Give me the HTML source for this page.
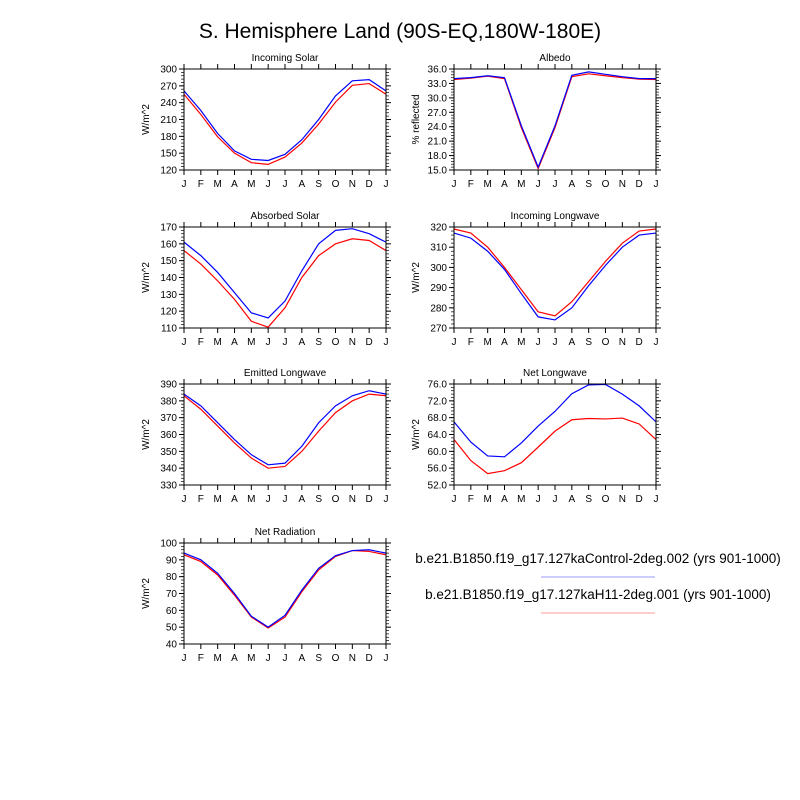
<!DOCTYPE html>
<html><head><meta charset="utf-8">
<style>
html,body{margin:0;padding:0;background:#fff;}
svg{display:block;font-family:"Liberation Sans",Arial,sans-serif;}
</style></head>
<body>
<svg id="chart" width="800" height="800" viewBox="0 0 800 800">
<text x="400" y="38" text-anchor="middle" font-size="21">S. Hemisphere Land (90S-EQ,180W-180E)</text>
<g>
<text x="598" y="563" text-anchor="middle" font-size="13.5">b.e21.B1850.f19_g17.127kaControl-2deg.002 (yrs 901-1000)</text>
<line x1="541" y1="577" x2="655" y2="577" stroke="#9999ff" stroke-width="1"/>
<text x="598" y="599" text-anchor="middle" font-size="13.5">b.e21.B1850.f19_g17.127kaH11-2deg.001 (yrs 901-1000)</text>
<line x1="541" y1="613" x2="655" y2="613" stroke="#ff9999" stroke-width="1"/>
</g>
</svg>
<script>
const months = ["J","F","M","A","M","J","J","A","S","O","N","D","J"];
const titles = ["Incoming Solar","Albedo","Absorbed Solar","Incoming Longwave","Emitted Longwave","Net Longwave","Net Radiation"];
const yLabels = ["W/m^2","% reflected","W/m^2","W/m^2","W/m^2","W/m^2","W/m^2"];
const yMins = [120,15,110,270,330,52,40];
const yMaxs = [300,36,170,320,390,76,100];
const ySteps = [30,3,10,10,10,4,10];
const yDecimals = [0,1,0,0,0,1,0];
const controlIncomingSolar = [261,226,185,154,139,137,148,174,210,252,279,281,261];
const h11IncomingSolar = [255,219,179,150,133,130,143,168,202,241,271,274,255];
const controlAlbedo = [34.0,34.2,34.6,34.2,24.2,15.6,24.2,34.7,35.4,34.9,34.4,34.0,34.0];
const h11Albedo = [33.8,34.1,34.5,34.0,23.8,15.3,23.8,34.4,35.0,34.6,34.2,33.9,33.8];
const controlAbsorbedSolar = [161,153,143,131,119,116,126,144,160,168,169,166,161];
const h11AbsorbedSolar = [156,148,138,127,114,110.5,122,140,153,160,163,162,156];
const controlIncomingLW = [317,314.5,308,299,287,275.5,274,280,291,301,310,316,317];
const h11IncomingLW = [319,317,310,300,289,278,276,283,293,303,312,318,319];
const controlEmittedLW = [384,377,367,357,348,342,343,353,367,377,383,386,384];
const h11EmittedLW = [383,375,365,355,346,340,341,350,362,373,380,384,383];
const controlNetLW = [67,62.2,58.9,58.7,62,66,69.5,73.7,75.8,75.9,73.6,70.8,67];
const h11NetLW = [62.8,57.8,54.7,55.4,57.3,61,64.8,67.5,67.8,67.7,67.9,66.5,62.8];
const controlNetRad = [94,90,82,70,56.5,50,57,72,85,92.5,95.5,96,94];
const h11NetRad = [93,89,81,69,56,49.5,56,71,84,92,95.5,95,93];
const controlSeries = [controlIncomingSolar,controlAlbedo,controlAbsorbedSolar,controlIncomingLW,controlEmittedLW,controlNetLW,controlNetRad];
const h11Series = [h11IncomingSolar,h11Albedo,h11AbsorbedSolar,h11IncomingLW,h11EmittedLW,h11NetLW,h11NetRad];

const NS="http://www.w3.org/2000/svg";
const svg=document.getElementById("chart");
const lefts=[184,454], tops=[69,227,384,543], W=202, H=101;
function mk(tag,attrs,parent){const e=document.createElementNS(NS,tag);for(const k in attrs)e.setAttribute(k,attrs[k]);parent.appendChild(e);return e;}
function slug(s){return s.toLowerCase().replace(/[^a-z0-9]+/g,'-');}
titles.forEach((t,i)=>{
  const x0=lefts[i%2], y0=tops[Math.floor(i/2)];
  const g=mk("g",{},svg);
  
  
  const xs=k=>x0+k*W/12;
  const ys=v=>y0+H-(v-yMins[i])/(yMaxs[i]-yMins[i])*H;
  const tt=mk("text",{x:x0+W/2,y:y0-8,"text-anchor":"middle","font-size":"10"},g);tt.textContent=t;
  
  
  months.forEach((m,k)=>{
    mk("line",{x1:xs(k),y1:y0+H,x2:xs(k),y2:y0+H+5,stroke:"#000","stroke-width":"1"},g);
    mk("line",{x1:xs(k),y1:y0,x2:xs(k),y2:y0-5,stroke:"#000","stroke-width":"1"},g);
    const lt=mk("text",{x:xs(k),y:y0+H+17,"text-anchor":"middle","font-size":"10"},g);lt.textContent=m;
    
    
  });
  const step=ySteps[i];
  for(let v=yMins[i];v<=yMaxs[i]+1e-9;v+=step){
    const y=ys(v);
    mk("line",{x1:x0-5,y1:y,x2:x0,y2:y,stroke:"#000"},g);
    mk("line",{x1:x0+W,y1:y,x2:x0+W+5,y2:y,stroke:"#000"},g);
    const lt=mk("text",{x:x0-7,y:y+3.5,"text-anchor":"end","font-size":"10"},g);lt.textContent=v.toFixed(yDecimals[i]);
    
    
  }
  for(let v=yMins[i];v<=yMaxs[i]+1e-9;v+=step/5){
    const y=ys(v);
    mk("line",{x1:x0-3,y1:y,x2:x0,y2:y,stroke:"#000","stroke-width":"0.7"},g);
    mk("line",{x1:x0+W,y1:y,x2:x0+W+3,y2:y,stroke:"#000","stroke-width":"0.7"},g);
  }
  const yl=mk("text",{x:0,y:0,"text-anchor":"middle","font-size":"10",transform:`translate(${x0-35},${y0+H/2}) rotate(-90)`},g);yl.textContent=yLabels[i];
  
  
  const pr=mk("polyline",{points:h11Series[i].map((v,k)=>xs(k)+","+ys(v)).join(" "),fill:"none",stroke:"#ff0000","stroke-width":"1.2"},g);
  
  
  const pb=mk("polyline",{points:controlSeries[i].map((v,k)=>xs(k)+","+ys(v)).join(" "),fill:"none",stroke:"#0000ff","stroke-width":"1.2"},g);
  
  
  const fr=mk("rect",{x:x0,y:y0,width:W,height:H,fill:"none",stroke:"#000","stroke-width":"1"},g);
  
  
});
</script>
</body></html>
